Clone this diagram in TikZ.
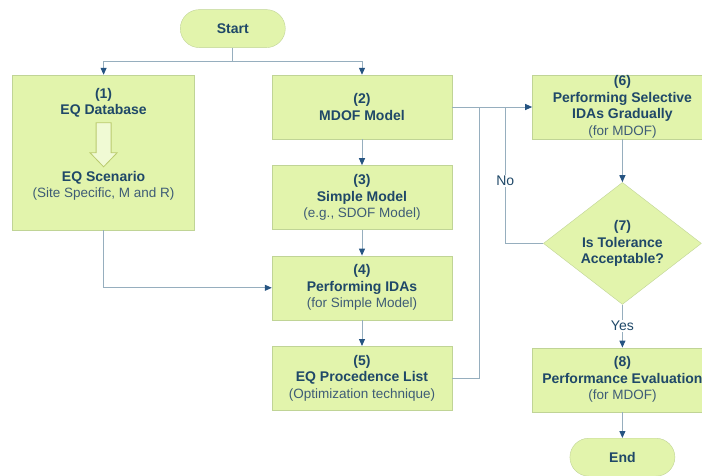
\documentclass[tikz,border=0pt]{standalone}
\usepackage{fontspec}
\setmainfont{Liberation Sans}
\usetikzlibrary{positioning,calc,shapes.geometric,arrows.meta}
\definecolor{boxfill}{RGB}{226,244,172}
\definecolor{boxline}{RGB}{192,212,150}
\definecolor{txt}{RGB}{31,72,104}
\definecolor{subtxt}{RGB}{62,92,118}
\definecolor{wire}{RGB}{150,174,190}
\definecolor{tip}{RGB}{38,84,130}
\definecolor{hollowline}{RGB}{186,202,110}
\definecolor{hollowfill}{RGB}{240,250,212}
\newcommand{\subline}[1]{{\mdseries\color{subtxt}\fontsize{13.5}{16.5}\selectfont #1}}

\begin{document}
\begin{tikzpicture}[
    x=1pt, y=-1pt,
    node distance=26pt,
    block/.style={draw=boxline, fill=boxfill, text=txt, align=center, inner sep=0pt,
        minimum width=180pt, minimum height=64pt, font=\fontsize{14}{16.5}\selectfont\bfseries},
    term/.style={block, rounded corners=19pt, minimum width=105pt, minimum height=38pt},
    decision/.style={block, diamond, aspect=1.3, minimum width=158pt, minimum height=122pt},
    line/.style={draw=wire, line width=1pt},
    flow/.style={line, -{Triangle[length=7pt, width=6pt, color=tip]}},
    lbl/.style={fill=white, text=txt, inner sep=1pt, font=\fontsize{14}{16}\selectfont}
]
\clip (0,0) rectangle (702,475);

\node[block] (mdof) at (362,107) {(2)\\MDOF Model};
\node[block, below=of mdof] (simple) {(3)\\Simple Model\\\subline{(e.g., SDOF Model)}};
\node[block, below=of simple] (ida) {(4)\\Performing IDAs\\\subline{(for Simple Model)}};
\node[block, below=of ida] (list) {(5)\\EQ Procedence List\\\subline{(Optimization technique)}};
\node[block, minimum width=182pt, minimum height=155pt, left=77pt of mdof.north west, anchor=north east] (db) {};
\node[text=txt, align=center, font=\fontsize{14}{16.5}\selectfont\bfseries] (dbtext) at ($(db.north)+(0,28)$) {(1)\\EQ Database};
\node[text=txt, align=center, font=\fontsize{14}{16.5}\selectfont\bfseries] (scen) at ($(db.north)+(0,111)$) {EQ Scenario\\\subline{(Site Specific, M and R)}};
\draw[draw=hollowline, fill=hollowfill, line width=0.8pt] ($(db.north)+(-7.5,48)$) -- ++(15,0) -- ++(0,30) -- ++(6,0)
    -- ++(-13.5,14) -- ++(-13.5,-14) -- ++(6,0) -- cycle;

\coordinate (top) at ($(db.north)!0.5!(mdof.north)$);
\node[term, above=27pt of top] (start) {Start};
\coordinate (split) at ($(start.south)+(0,14)$);

\node[block, right=80pt of mdof] (sel) {(6)\\Performing Selective\\IDAs Gradually\\\subline{(for MDOF)}};
\node[decision, below=43pt of sel] (tol) {(7)\\Is Tolerance\\Acceptable?};
\node[block, below=43pt of tol] (eval) {(8)\\Performance Evaluation\\\subline{(for MDOF)}};
\node[term, below=of eval] (stop) {End};

\coordinate (m5) at ($(mdof.east)+(27,0)$);
\coordinate (m7) at ($(mdof.east)+(53,0)$);

\draw[line] (start) -- (split);
\draw[flow] (split) -| (db);
\draw[flow] (split) -| (mdof);
\draw[flow] (mdof) -- (simple);
\draw[flow] (simple) -- (ida);
\draw[flow] (ida) -- (list);
\draw[flow] (db) |- (ida);
\draw[flow] (mdof) -- (sel);
\draw[line] (list) -| (m5);
\draw[line] (tol) -| node[lbl, pos=0.73] {No} (m7);
\draw[flow] (sel) -- (tol);
\draw[flow] (tol) -- node[lbl] {Yes} (eval);
\draw[flow] (eval) -- (stop);
\end{tikzpicture}
\end{document}
